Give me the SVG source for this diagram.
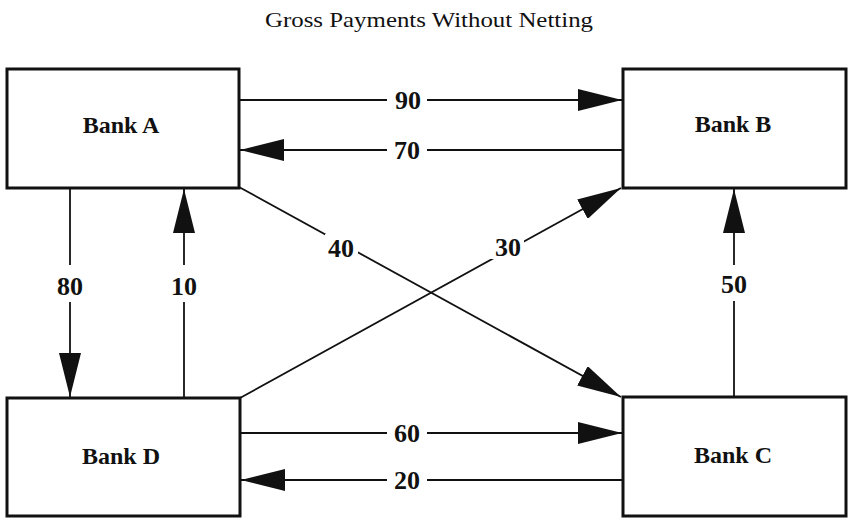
<svg xmlns="http://www.w3.org/2000/svg" width="854" height="518" viewBox="0 0 854 518">
<style>
.box{fill:#fff;stroke:#111;stroke-width:3}
.bank{font-family:"Liberation Serif",serif;font-weight:bold;font-size:24px;fill:#111;text-anchor:middle}
.title{font-family:"Liberation Serif",serif;font-size:21px;fill:#111}
.conn{stroke:#111;stroke-width:1.8;fill:none;marker-end:url(#ah)}
.lbl{font-family:"Liberation Serif",serif;font-weight:bold;font-size:26px;fill:#111;text-anchor:middle}
.bg{fill:#fff}
</style>
<defs>
<marker id="ah" viewBox="0 0 44 22" refX="44" refY="11" markerWidth="44" markerHeight="22" markerUnits="userSpaceOnUse" orient="auto">
<path d="M0,0 L44,11 L0,22 Z" fill="#111"/>
</marker>
</defs>
<rect width="854" height="518" fill="#fff"/>
<text class="title" x="265" y="27" textLength="328" lengthAdjust="spacingAndGlyphs">Gross Payments Without Netting</text>
<g id="connectors">
<line class="conn" x1="240" y1="100" x2="622" y2="100"/>
<line class="conn" x1="622" y1="150" x2="240" y2="150"/>
<line class="conn" x1="70" y1="189" x2="70" y2="397"/>
<line class="conn" x1="184" y1="397" x2="184" y2="189"/>
<line class="conn" x1="239" y1="187" x2="621" y2="397"/>
<line class="conn" x1="240" y1="398" x2="621" y2="188"/>
<line class="conn" x1="734" y1="397" x2="734" y2="189"/>
<line class="conn" x1="241" y1="433" x2="622" y2="433"/>
<line class="conn" x1="622" y1="480" x2="241" y2="480"/>
</g>
<g id="labels">
<rect class="bg" x="387" y="88" width="40" height="24"/><text class="lbl" x="408" y="109">90</text>
<rect class="bg" x="387" y="138" width="40" height="24"/><text class="lbl" x="407" y="159">70</text>
<rect class="bg" x="54" y="265" width="34" height="37"/><text class="lbl" x="70" y="295">80</text>
<rect class="bg" x="168" y="265" width="34" height="37"/><text class="lbl" x="184" y="295">10</text>
<rect class="bg" x="325" y="234" width="33" height="21"/><text class="lbl" x="341" y="257">40</text>
<rect class="bg" x="490" y="234" width="34" height="25"/><text class="lbl" x="508" y="256">30</text>
<rect class="bg" x="717" y="265" width="34" height="36"/><text class="lbl" x="734" y="293">50</text>
<rect class="bg" x="387" y="421" width="40" height="24"/><text class="lbl" x="407" y="442">60</text>
<rect class="bg" x="387" y="468" width="40" height="24"/><text class="lbl" x="407" y="489">20</text>
</g>
<g id="bankA"><rect class="box" x="7" y="69" width="232" height="119"/><text class="bank" x="121" y="133">Bank A</text></g>
<g id="bankB"><rect class="box" x="623" y="69" width="223" height="119"/><text class="bank" x="733" y="132">Bank B</text></g>
<g id="bankD"><rect class="box" x="7" y="398" width="233" height="118"/><text class="bank" x="121" y="464">Bank D</text></g>
<g id="bankC"><rect class="box" x="623" y="397" width="223" height="119"/><text class="bank" x="733" y="463">Bank C</text></g>
</svg>
